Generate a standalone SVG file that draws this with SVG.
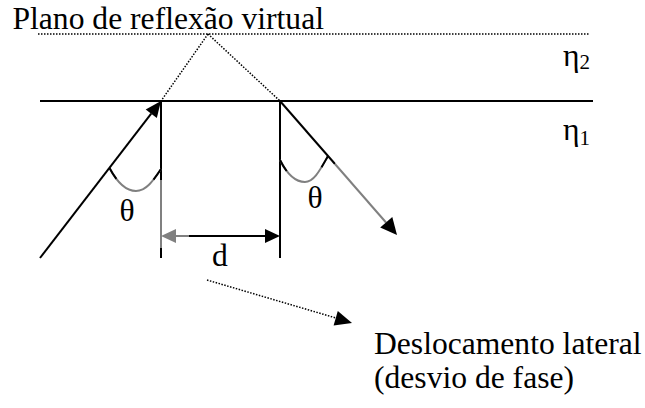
<svg xmlns="http://www.w3.org/2000/svg" width="645" height="408" viewBox="0 0 645 408">
<style>
.t{font-family:"Liberation Serif","Times New Roman",serif;fill:#000;font-size:31.6px}
.k{stroke:#000;stroke-width:2;fill:none}
.g{stroke:#808080;stroke-width:2;fill:none}
.dot{stroke:#000;stroke-width:1.5;stroke-dasharray:1.5 1.5;fill:none}
.hk{fill:#000}
.hg{fill:#808080}
</style>
<rect width="645" height="408" fill="#fff"/>
<g id="virtual-plane">
<line class="dot" x1="38" y1="34" x2="590" y2="34"/>
<text class="t" x="12.5" y="29">Plano de reflexão virtual</text>
</g>
<g id="interface">
<line class="k" x1="40" y1="101" x2="593" y2="101"/>
</g>
<g id="eta2"><text class="t" x="563" y="66">η<tspan font-size="21" dy="3">2</tspan></text></g>
<g id="eta1"><text class="t" x="563" y="140">η<tspan font-size="21" dy="5">1</tspan></text></g>
<g id="normals">
<line class="k" x1="161" y1="101" x2="161" y2="180"/>
<line class="g" x1="161" y1="180" x2="161" y2="248"/>
<line class="k" x1="161" y1="248" x2="161" y2="258"/>
<line class="k" x1="280" y1="101" x2="280" y2="258"/>
</g>
<g id="theta-left">
<path class="g" d="M109.5,168 C118,184 127,191 136,191 C146,191 153,181 161,169"/>
<path class="k" pathLength="100" stroke-dasharray="18 64 18" d="M109.5,168 C118,184 127,191 136,191 C146,191 153,181 161,169"/>
<text class="t" x="127" y="221" text-anchor="middle">θ</text>
</g>
<g id="theta-right">
<path class="g" d="M280,160 C288,176 296,182 305,182 C314,182 320,170 328,156"/>
<path class="k" pathLength="100" stroke-dasharray="18 64 18" d="M280,160 C288,176 296,182 305,182 C314,182 320,170 328,156"/>
<text class="t" x="315" y="208" text-anchor="middle">θ</text>
</g>
<g id="d-label"><text class="t" x="220" y="266" text-anchor="middle">d</text></g>
<g id="lateral-shift">
<text class="t" x="374" y="354">Deslocamento lateral</text>
<text class="t" x="374" y="388">(desvio de fase)</text>
</g>
<g id="connectors">
<line class="dot" x1="208" y1="34" x2="161" y2="101"/>
<line class="dot" x1="208" y1="34" x2="280" y2="101"/>
<line class="k" x1="40" y1="258" x2="151.2" y2="113.7"/>
<polygon class="hk" points="161,101 156.8,117.9 145.7,109.4"/>
<line class="k" x1="280" y1="101" x2="335" y2="164"/>
<line class="g" x1="335" y1="164" x2="386" y2="222.5"/>
<polygon class="hk" points="397,235 380.2,227.6 392.3,217.1"/>
<polygon class="hg" points="161,236 176,229 176,243"/>
<line class="g" x1="175" y1="236" x2="189" y2="236"/>
<line class="k" x1="189" y1="236" x2="266" y2="236"/>
<polygon class="hk" points="280,236 265,229 265,243"/>
<line class="dot" x1="207" y1="280" x2="336" y2="318"/>
<polygon class="hk" points="352,323 333.6,325.4 337.8,311"/>
</g>
</svg>
